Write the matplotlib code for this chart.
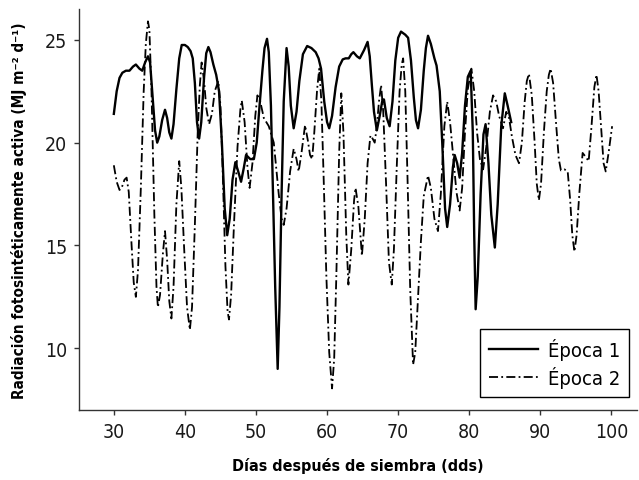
import matplotlib
matplotlib.use("Agg")
import matplotlib.pyplot as plt

## Data (day after sowing, PAR in MJ m-2 d-1)
dias_e1 = [30.0, 30.4, 30.8, 31.2, 31.7, 32.2, 32.7, 33.1, 33.6, 34.0, 34.4, 34.8,
           35.1, 35.5, 35.8, 36.1, 36.4, 36.8, 37.2, 37.5, 37.8, 38.1, 38.4, 38.8,
           39.2, 39.55, 40.0, 40.4, 40.8, 41.1, 41.4, 41.7, 42.0, 42.3, 42.7, 43.0,
           43.3, 43.6, 44.0, 44.4, 44.8, 45.2, 45.6, 45.95, 46.3, 46.7, 47.1, 47.5,
           47.9, 48.3, 48.6, 49.2, 49.7, 50.1, 50.5, 50.9, 51.2, 51.55, 51.8, 52.1,
           52.4, 52.7, 53.05, 53.3, 53.6, 53.9, 54.3, 54.6, 54.9, 55.3, 55.7, 56.1,
           56.6, 57.2, 57.8, 58.4, 58.8, 59.15, 59.6, 60.0, 60.3, 60.7, 61.2, 61.7,
           62.2, 62.6, 63.05, 63.4, 63.7, 64.2, 64.6, 65.2, 65.7, 66.0, 66.3, 66.6,
           67.0, 67.4, 67.8, 68.0, 68.4, 68.8, 69.2, 69.6, 70.0, 70.4, 71.0, 71.4,
           71.8, 72.2, 72.5, 72.8, 73.2, 73.6, 73.9, 74.2, 74.6, 75.1, 75.4, 75.85,
           76.2, 76.6, 76.9, 77.3, 77.7, 77.95, 78.3, 78.65, 79.0, 79.4, 79.8, 80.2,
           80.5, 80.7, 80.9, 81.2, 81.6, 82.0, 82.3, 82.7, 83.1, 83.6, 84.0, 84.5,
           85.0, 85.4, 85.9]
rad_e1 = [21.4, 22.5, 23.15, 23.4, 23.5, 23.5, 23.7, 23.8, 23.6, 23.5, 23.9, 24.2,
          23.9, 22.0, 20.6, 20.0, 20.3, 21.1, 21.6, 21.2, 20.5, 20.2, 20.9, 22.6,
          24.1, 24.75, 24.75, 24.65, 24.45, 24.1, 22.9, 21.0, 20.2, 21.0, 23.2, 24.35,
          24.65, 24.4, 23.8, 23.3, 22.5, 20.0, 16.8, 15.5, 16.3, 18.2, 19.05, 18.6,
          18.1, 18.8, 19.4, 19.2, 19.2, 20.0, 21.8, 23.5, 24.6, 25.05, 24.4, 21.8,
          17.5, 13.0, 9.0, 12.0, 17.5, 22.0, 24.6, 23.7, 21.8, 20.7, 21.5, 23.0,
          24.3, 24.7, 24.6, 24.4, 24.1, 23.6, 22.0, 21.0, 20.7, 21.3, 22.7, 23.7,
          24.05, 24.1, 24.1, 24.3, 24.4, 24.2, 24.1, 24.5, 24.9, 24.2, 22.8, 21.5,
          20.6, 21.3, 22.1, 22.1, 21.2, 20.8, 22.0, 24.0, 25.1, 25.4, 25.25, 25.1,
          24.0, 22.2, 21.1, 20.7, 21.6, 23.5, 24.6, 25.2, 24.8, 24.1, 23.75, 22.5,
          20.0, 16.8, 15.9, 17.0, 18.8, 19.4, 19.0, 18.3, 19.5, 21.8, 23.2, 23.5,
          20.5, 15.5, 11.9, 13.5, 17.5, 20.4, 20.9, 19.0, 16.5, 14.9, 17.0, 20.8,
          22.4, 21.8, 21.0]

dias_e2 = [30.0, 30.4, 30.8, 31.1, 31.5, 31.8, 32.1, 32.5, 32.8, 33.1, 33.4, 33.8,
           34.2, 34.5, 34.8, 35.0, 35.3, 35.7, 36.0, 36.2, 36.5, 36.9, 37.2, 37.5,
           37.8, 38.1, 38.4, 38.8, 39.2, 39.5, 39.9, 40.3, 40.7, 41.0, 41.4, 41.8,
           42.1, 42.35, 42.7, 43.0, 43.4, 43.8, 44.2, 44.7, 45.0, 45.3, 45.7, 46.0,
           46.2, 46.5, 46.9, 47.4, 47.8, 48.0, 48.4, 48.8, 49.1, 49.5, 49.9, 50.2,
           50.6, 51.1, 51.8, 52.5, 53.2, 53.6, 53.9, 54.3, 54.8, 55.3, 55.7, 56.0,
           56.4, 56.9, 57.3, 57.6, 57.9, 58.2, 58.6, 58.9, 59.2, 59.5, 59.9, 60.3,
           60.7, 61.0, 61.3, 61.7, 62.0, 62.3, 62.7, 63.0, 63.4, 63.8, 64.0, 64.4,
           64.9, 65.3, 65.7, 66.1, 66.4, 66.7, 67.0, 67.3, 67.6, 67.9, 68.3, 68.7,
           69.1, 69.4, 69.8, 70.2, 70.5, 70.7, 71.0, 71.3, 71.7, 72.1, 72.4, 72.8,
           73.2, 73.6, 74.2, 74.6, 75.1, 75.6, 76.0, 76.5, 76.9, 77.3, 77.7, 78.2,
           78.65, 79.0, 79.4, 79.8, 80.3, 80.7, 81.1, 81.5, 81.95, 82.4, 82.9, 83.35,
           83.8, 84.2, 84.75, 85.2, 85.6, 86.0, 86.5, 87.0, 87.4, 87.8, 88.1, 88.4,
           88.8, 89.2, 89.5, 89.8, 90.1, 90.5, 90.9, 91.2, 91.45, 91.8, 92.2, 92.6,
           92.9, 93.4, 93.85, 94.2, 94.5, 94.8, 95.1, 95.5, 95.95, 96.4, 96.8, 97.2,
           97.6, 97.9, 98.2, 98.6, 98.9, 99.2, 99.6, 100.1]
rad_e2 = [18.9, 18.1, 17.7, 17.8, 18.2, 18.3, 17.6, 15.0, 13.2, 12.5, 13.8, 17.8,
          22.5, 24.8, 25.9, 25.5, 22.5, 16.5, 13.0, 12.0, 12.6, 14.6, 15.7, 14.3,
          12.3, 11.45, 13.0, 17.0, 19.1, 17.8, 14.8, 12.0, 10.9, 12.0, 16.0, 20.5,
          22.8, 23.9, 23.0, 21.7, 20.9, 21.4, 22.5, 23.0, 21.8, 18.8, 14.0, 11.8,
          11.4, 12.6, 16.0, 19.8, 21.6, 22.05, 21.0, 18.8, 17.8, 19.0, 21.3, 22.3,
          22.0, 21.2, 20.8, 20.0, 17.5, 16.3, 16.0, 16.8, 18.6, 19.7, 19.2, 18.6,
          19.5, 20.85, 20.1, 19.4, 19.2, 20.5, 22.6, 23.6, 22.0, 18.5, 13.5, 9.8,
          8.05, 9.5, 13.5, 19.5, 22.4, 20.5, 15.5, 13.1, 14.8, 17.2, 17.8, 16.9,
          14.5, 16.3, 19.0, 20.35, 20.2, 20.0, 20.8, 22.0, 22.8, 21.5, 18.0, 14.2,
          13.1, 14.8, 18.8, 22.5, 23.8, 24.1, 22.5, 18.5, 12.8, 9.2, 9.8, 12.5,
          15.2, 17.4, 18.4, 17.8, 16.3, 15.7, 17.5, 20.8, 22.0, 21.0, 19.5, 17.6,
          16.7, 17.8, 20.5, 22.6, 23.6, 22.5, 20.5, 19.2, 18.7, 19.8, 21.5, 22.3,
          22.0, 21.3, 20.7, 21.5, 21.2, 20.3, 19.4, 19.0, 20.0, 22.0, 23.0, 23.35,
          22.3, 20.0, 18.0, 17.2, 18.0, 20.5, 22.5, 23.3, 23.6, 22.9, 21.0, 19.2,
          18.65, 18.7, 18.6, 17.2, 15.5, 14.7, 15.5, 17.6, 19.5, 19.3, 19.1, 20.8,
          22.7, 23.3, 22.5, 20.5, 19.0, 18.6, 19.5, 20.8]

x_ticks = [30, 40, 50, 60, 70, 80, 90, 100]
y_ticks = [10, 15, 20, 25]

plt.rcParams["font.family"] = ["DejaVu Sans"]
plt.rcParams["font.stretch"] = "condensed"

fig = plt.figure(figsize=(6.39, 4.81), dpi=100)
ax = fig.add_axes([79 / 639, 70 / 481, 558 / 639, 401 / 481])

ax.plot(dias_e1, rad_e1, color="black", linewidth=1.7, label="Época 1")
ax.plot(dias_e2, rad_e2, color="black", linewidth=1.3, dashes=(5, 1.8, 1, 1.8),
        label="Época 2")

ax.set_xlim(25.1, 103.6)
ax.set_ylim(7.0, 26.5)
ax.set_xticks(x_ticks)
ax.set_yticks(y_ticks)

for side in ["top", "right"]:
  ax.spines[side].set_visible(False)
for side in ["left", "bottom"]:
  ax.spines[side].set_color("#333333")
  ax.spines[side].set_linewidth(1.0)
ax.tick_params(direction="out", length=3.5, width=1.0, color="#333333",
               labelsize=14, labelcolor="#1a1a1a", pad=5)

ax.set_xlabel("Días después de siembra (dds)", fontsize=11.5, fontweight="bold",
              labelpad=12)
ax.set_ylabel("Radiación fotosintéticamente activa (MJ m⁻² d⁻¹)",
              fontsize=11, fontweight="bold", labelpad=13)

leg = ax.legend(loc="lower right", bbox_to_anchor=(0.986, 0.032), fontsize=14.5,
                fancybox=False, framealpha=1, edgecolor="black",
                borderaxespad=0, handlelength=2.4, borderpad=0.45,
                labelspacing=0.3, handletextpad=0.5)
leg.get_frame().set_linewidth(1.0)

fig.savefig("out.png", dpi=100)
